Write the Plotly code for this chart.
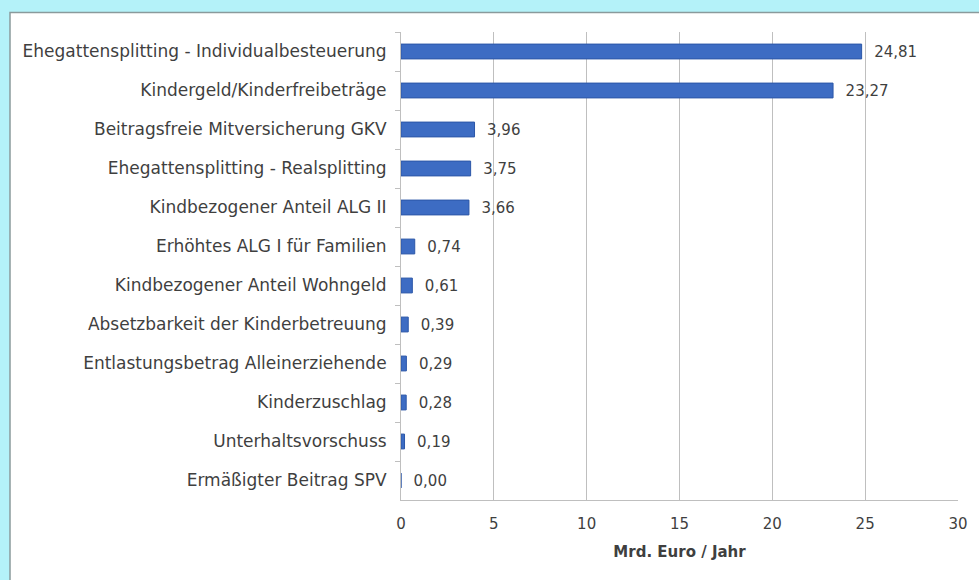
import plotly.graph_objects as go

categories = [
    "Ehegattensplitting - Individualbesteuerung",
    "Kindergeld/Kinderfreibeträge",
    "Beitragsfreie Mitversicherung GKV",
    "Ehegattensplitting - Realsplitting",
    "Kindbezogener Anteil ALG II",
    "Erhöhtes ALG I für Familien",
    "Kindbezogener Anteil Wohngeld",
    "Absetzbarkeit der Kinderbetreuung",
    "Entlastungsbetrag Alleinerziehende",
    "Kinderzuschlag",
    "Unterhaltsvorschuss",
    "Ermäßigter Beitrag SPV",
]
values = [24.81, 23.27, 3.96, 3.75, 3.66, 0.74, 0.61, 0.39, 0.29, 0.28, 0.19, 0.00]
x_ticks = [0, 5, 10, 15, 20, 25, 30]
x_title = "Mrd. Euro / Jahr"

# German decimal comma, padded so the label sits a little right of the bar end
labels = ["  " + f"{v:.2f}".replace(".", ",") for v in values]

FONT = "DejaVu Sans"
TEXT = "#3f3f3f"
FS = 17

fig = go.Figure(
    go.Bar(
        x=values,
        y=categories,
        orientation="h",
        text=labels,
        textposition="outside",
        constraintext="none",
        cliponaxis=False,
        textfont=dict(family=FONT, size=15, color=TEXT),
        marker=dict(color="#3d6cc3", line=dict(color="#2c57a8", width=1)),
        width=0.38,
    )
)

W, H = 979, 580
L, R, T, B = 401, 21, 31.5, 79.5
pw, ph = W - L - R, H - T - B

def px_x(p):
    return (p - L) / pw

def px_y(p):
    return (H - B - p) / ph

fig.add_shape(
    type="rect", xref="paper", yref="paper", layer="below",
    x0=px_x(10), x1=px_x(990), y0=px_y(600), y1=px_y(12),
    fillcolor="white", line=dict(color="#8a9a9c", width=1.5),
)

fig.update_layout(
    width=W, height=H,
    margin=dict(l=L, r=R, t=T, b=B),
    paper_bgcolor="#b4f2f9",
    plot_bgcolor="white",
    showlegend=False,
    bargap=0.6,
    font=dict(family=FONT, size=FS, color=TEXT),
    xaxis=dict(
        range=[0, 30],
        tickvals=x_ticks,
        ticktext=[str(t) for t in x_ticks],
        showgrid=True, gridcolor="#bfbfbf", gridwidth=1,
        zeroline=False,
        showline=True, linecolor="#bfbfbf", linewidth=1,
        ticks="", ticklabelstandoff=10,
        tickfont=dict(family=FONT, size=15, color=TEXT),
        title=dict(text="<b>" + x_title + "</b>", standoff=14,
                   font=dict(family=FONT, size=15, color=TEXT)),
    ),
    yaxis=dict(
        autorange="reversed",
        showline=True, linecolor="#bfbfbf", linewidth=1,
        ticks="outside", tickson="boundaries", ticklen=5, tickcolor="#bfbfbf",
        ticklabelstandoff=10,
        tickfont=dict(family=FONT, size=FS, color=TEXT),
        showgrid=False,
    ),
)

fig.write_html("out.html")
